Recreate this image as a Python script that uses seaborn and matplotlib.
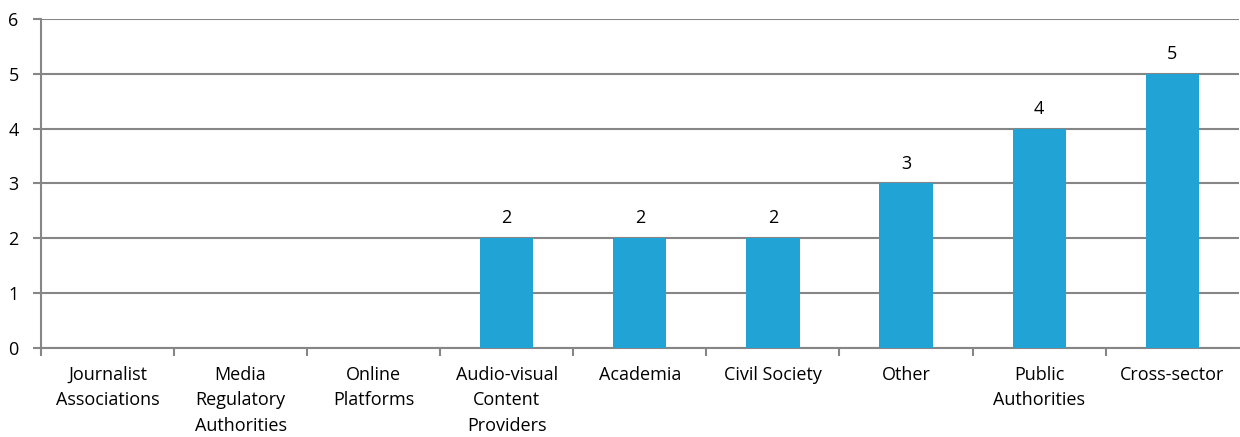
import matplotlib
matplotlib.use("Agg")
import matplotlib.pyplot as plt
import seaborn as sns
import pandas as pd
import numpy as np

categories = ["Journalist\nAssociations", "Media\nRegulatory\nAuthorities", "Online\nPlatforms",
              "Audio-visual\nContent\nProviders", "Academia", "Civil Society", "Other",
              "Public\nAuthorities", "Cross-sector"]
values = [0, 0, 0, 2, 2, 2, 3, 4, 5]

sns.set_theme(style="white")
plt.rcParams['font.family'] = ['Open Sans', 'DejaVu Sans']
plt.rcParams['text.color'] = 'black'
plt.rcParams['xtick.color'] = 'black'
plt.rcParams['ytick.color'] = 'black'

df = pd.DataFrame({"cat": categories, "val": values})
fig = plt.figure(figsize=(12.4, 4.37), dpi=100)
ax = fig.add_axes([0.033, 0.2037, 0.966, 0.7528])
grid_c = "#868686"
sns.barplot(data=df, x="cat", y="val", color="#21A3D6", width=0.4, saturation=1,
            linewidth=0, edgecolor="none", ax=ax, zorder=3)
ax.set_ylim(0, 6)
ax.set_xlim(-0.5, len(categories) - 0.5)
ax.set_yticks(range(0, 7))
ax.set_yticklabels([str(i) for i in range(0, 7)], fontsize=13)
ax.yaxis.grid(True, color=grid_c, linewidth=1.5, zorder=0)
ax.set_axisbelow(True)
for s in ["top", "right"]:
    ax.spines[s].set_visible(False)
for s in ["left", "bottom"]:
    ax.spines[s].set_color(grid_c)
    ax.spines[s].set_linewidth(1.5)
ax.set_xlabel("")
ax.set_ylabel("")
ax.set_xticks(np.arange(len(categories)))
ax.set_xticklabels(categories, fontsize=13, linespacing=1.52, va="top")
ax.tick_params(axis="x", which="major", length=0, pad=13)
ax.set_xticks(np.arange(-0.5, len(categories) - 0.5, 1), minor=True)
ax.tick_params(axis="x", which="minor", length=6, width=1.5, color=grid_c, direction="out", bottom=True)
ax.tick_params(axis="y", length=6, width=1.5, color=grid_c, labelcolor="black", direction="out", left=True, pad=10)
for i, v in enumerate(values):
    if v > 0:
        ax.text(i, v + 0.2, str(v), ha="center", va="bottom", fontsize=13, color="black")
fig.savefig("out.png", dpi=100)
